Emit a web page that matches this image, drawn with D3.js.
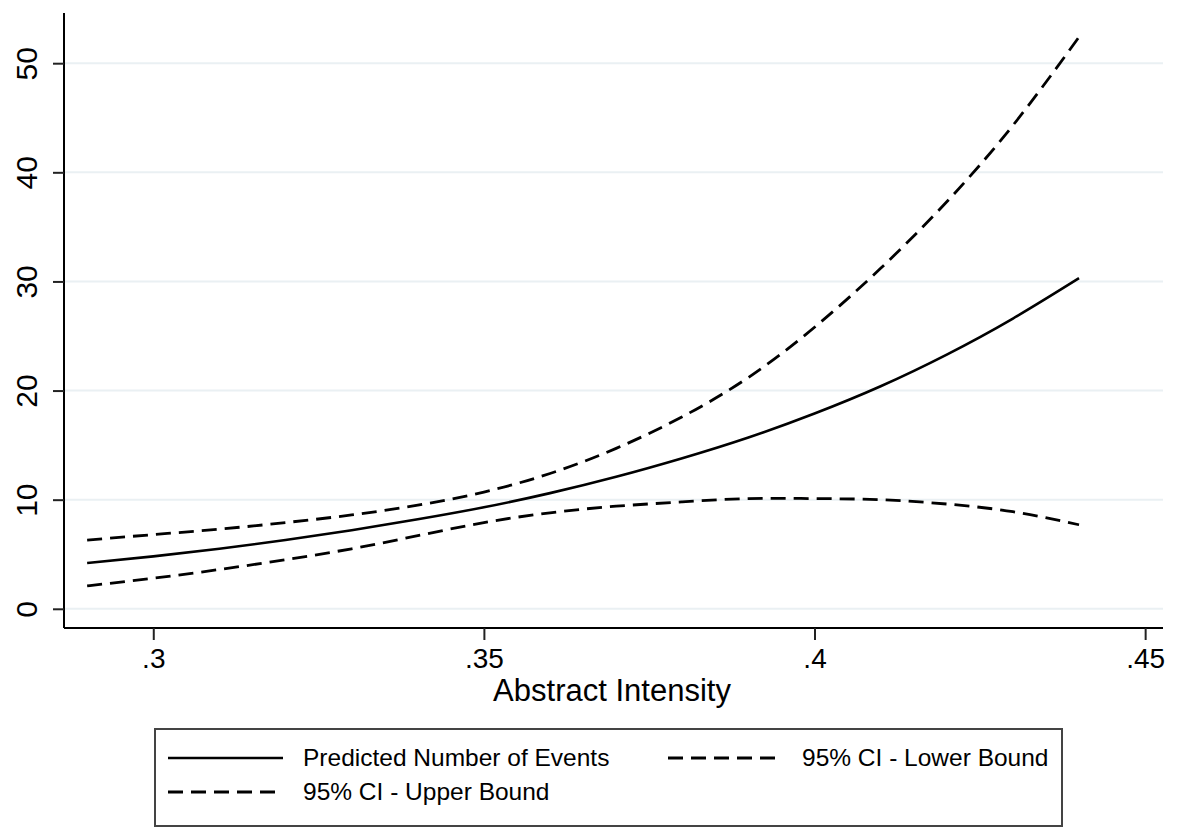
<!DOCTYPE html>
<html lang="en">
<head>
    <meta charset="UTF-8">
    <title>Predicted Number of Events</title>
    <script src="https://cdn.jsdelivr.net/npm/d3@7/dist/d3.min.js"></script>
    <style>
        body { margin: 0; background: #fff; }
        svg { display: block; font-family: "Liberation Sans", Arial, Helvetica, sans-serif; }
    </style>
</head>
<body>
    <svg id="chart" width="1189" height="828"></svg>

    <script>
    "use strict";

    // abstract intensity values (x)
    var intensity = [0.29, 0.30, 0.31, 0.32, 0.33, 0.34, 0.35, 0.36, 0.37, 0.38, 0.39, 0.40, 0.41, 0.42, 0.43, 0.44];
    // predicted number of events
    var predicted = [4.2, 4.8, 5.5, 6.3, 7.2, 8.2, 9.3, 10.6, 12.1, 13.8, 15.7, 17.9, 20.4, 23.3, 26.6, 30.3];
    var upperBound = [6.3, 6.8, 7.3, 7.9, 8.6, 9.5, 10.7, 12.4, 14.7, 17.6, 21.2, 25.8, 31.2, 37.3, 44.3, 52.4];
    var lowerBound = [2.1, 2.8, 3.6, 4.5, 5.5, 6.7, 7.9, 8.8, 9.4, 9.8, 10.1, 10.1, 10.0, 9.6, 8.9, 7.7];

    var xTicks = [0.3, 0.35, 0.4, 0.45];
    var xTickLabels = [".3", ".35", ".4", ".45"];
    var yTicks = [0, 10, 20, 30, 40, 50];

    var svg = d3.select("#chart");
    var plotLeft = 64, plotRight = 1163, plotTop = 13, plotBottom = 628;

    var x = d3.scaleLinear().domain([0.2865, 0.4527]).range([plotLeft, plotRight]);
    var y = d3.scaleLinear().domain([-1.76, 54.6]).range([plotBottom, plotTop]);

    // grid lines
    svg.append("g").selectAll("line")
        .data(yTicks)
        .join("line")
        .attr("x1", plotLeft).attr("x2", plotRight)
        .attr("y1", function (d) { return y(d); })
        .attr("y2", function (d) { return y(d); })
        .attr("stroke", "#eaf0f3")
        .attr("stroke-width", 2);

    // y axis
    var yAxis = svg.append("g")
        .attr("transform", "translate(" + plotLeft + ",0)")
        .call(d3.axisLeft(y).tickValues(yTicks).tickSize(11).tickSizeOuter(0));
    yAxis.select(".domain").attr("stroke", "#000").attr("stroke-width", 2)
        .attr("d", "M0," + plotTop + "V" + plotBottom);
    yAxis.selectAll(".tick line").attr("stroke", "#222").attr("stroke-width", 2);
    yAxis.selectAll(".tick text")
        .attr("x", 0).attr("y", 0)
        .attr("dy", 0)
        .attr("transform", "translate(-27,0) rotate(-90)")
        .attr("text-anchor", "middle")
        .attr("fill", "#000")
        .style("font-size", "30px")
        .style("font-family", "inherit");

    // x axis
    var xAxis = svg.append("g")
        .attr("transform", "translate(0," + plotBottom + ")")
        .call(d3.axisBottom(x).tickValues(xTicks)
            .tickFormat(function (d, i) { return xTickLabels[i]; })
            .tickSize(12).tickSizeOuter(0));
    xAxis.select(".domain").attr("stroke", "#000").attr("stroke-width", 2)
        .attr("d", "M" + plotLeft + ",0H" + plotRight);
    xAxis.selectAll(".tick line").attr("stroke", "#222").attr("stroke-width", 2);
    xAxis.selectAll(".tick text")
        .attr("y", 40).attr("dy", 0)
        .attr("fill", "#000")
        .style("font-size", "28px")
        .style("font-family", "inherit");

    svg.append("text")
        .attr("x", 612)
        .attr("y", 701)
        .attr("text-anchor", "middle")
        .style("font-size", "31px")
        .text("Abstract Intensity");

    // lines
    var series = [
        { name: "Predicted Number of Events", values: predicted, dash: null },
        { name: "95% CI - Lower Bound", values: lowerBound, dash: "15,8" },
        { name: "95% CI - Upper Bound", values: upperBound, dash: "15,8" }
    ];

    var line = d3.line()
        .x(function (d) { return x(d[0]); })
        .y(function (d) { return y(d[1]); })
        .curve(d3.curveNatural);

    svg.append("g").selectAll("path")
        .data(series)
        .join("path")
        .attr("d", function (s) { return line(d3.zip(intensity, s.values)); })
        .attr("fill", "none")
        .attr("stroke", "#000")
        .attr("stroke-width", function (s) { return s.dash ? 2.8 : 2.6; })
        .attr("stroke-dasharray", function (s) { return s.dash; });

    // legend
    var legend = svg.append("g");
    legend.append("rect")
        .attr("x", 155).attr("y", 729)
        .attr("width", 907).attr("height", 97)
        .attr("fill", "#fff")
        .attr("stroke", "#444")
        .attr("stroke-width", 2);

    var slots = [
        { x: 168, y: 758 },
        { x: 668, y: 758 },
        { x: 168, y: 792 }
    ];

    var item = legend.selectAll("g.item")
        .data(series)
        .join("g")
        .attr("class", "item")
        .attr("transform", function (s, i) { return "translate(" + slots[i].x + "," + slots[i].y + ")"; });

    item.append("line")
        .attr("x1", 0).attr("x2", 115)
        .attr("stroke", "#000")
        .attr("stroke-width", function (s) { return s.dash ? 2.8 : 2.6; })
        .attr("stroke-dasharray", function (s) { return s.dash; });

    item.append("text")
        .attr("x", function (s, i) { return i === 1 ? 134 : 135; })
        .attr("y", 8)
        .style("font-size", "24.5px")
        .text(function (s) { return s.name; });
    </script>
</body>
</html>
